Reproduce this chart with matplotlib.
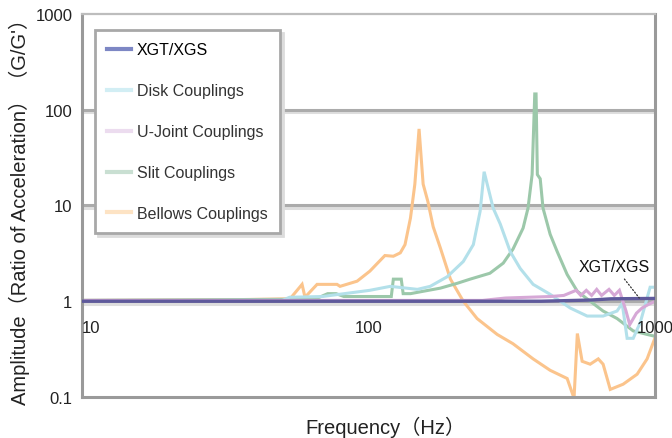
import matplotlib
matplotlib.use("Agg")
import matplotlib.pyplot as plt
import matplotlib.patheffects as pe
from matplotlib.lines import Line2D

plt.rcParams['font.family'] = ['Liberation Sans', 'Noto Sans CJK JP', 'DejaVu Sans']

# --- data (frequency in Hz, amplitude ratio G/G') ---
xgt_f = [10, 400, 600, 700, 1000]
xgt_a = [1.0, 1.0, 1.03, 1.06, 1.07]

disk_f = [10, 50, 53, 69, 101, 119, 148, 164, 188, 214, 232, 245, 253, 272, 288,
          312, 338, 375, 430, 505, 579, 658, 736, 767, 798, 838, 887, 960, 1000]
disk_a = [1.02, 1.02, 1.1, 1.12, 1.3, 1.43, 1.33, 1.43, 1.8, 2.6, 3.9, 8.7, 22.5, 9.4, 6.4,
          3.3, 2.2, 1.5, 1.18, 0.85, 0.70, 0.70, 0.79, 0.95, 0.41, 0.41, 0.6, 1.4, 1.4]

ujoint_f = [10, 250, 300, 430, 480, 530, 550, 575, 600, 625, 650, 690, 720, 750, 790,
            815, 860, 900, 950, 1000]
ujoint_a = [1.02, 1.02, 1.08, 1.12, 1.15, 1.3, 1.15, 1.3, 1.15, 1.33, 1.15, 1.33, 1.15,
            1.3, 0.8, 0.57, 0.75, 0.85, 0.93, 1.0]

slit_f = [10, 65, 72, 77, 82, 120, 122, 130, 132, 140, 155, 178, 204, 226, 265, 295, 319,
          346, 360, 372, 380, 384, 388, 397, 406, 430, 455, 493, 535, 593, 658, 736, 773,
          838, 937, 1000]
slit_a = [1.02, 1.05, 1.2, 1.2, 1.12, 1.12, 1.7, 1.7, 1.2, 1.2, 1.27, 1.37, 1.54, 1.7, 1.96,
          2.5, 3.5, 5.8, 9.4, 21, 146, 146, 21, 19, 9.4, 5, 3.3, 1.9, 1.27, 1.0, 0.79, 0.66,
          0.59, 0.49, 0.45, 0.43]

bellows_f = [10, 35.6, 53.2, 58.6, 60, 66.1, 77.6, 79.5, 91.2, 101, 114, 122, 129, 134, 140,
             145, 150, 155, 161, 168, 178, 193, 214, 239, 281, 319, 375, 430, 493, 521, 535,
             556, 593, 633, 658, 697, 773, 865, 937, 1000]
bellows_a = [1.02, 1.04, 1.06, 1.5, 1.1, 1.5, 1.5, 1.43, 1.62, 2.06, 3.0, 2.95, 3.2, 3.9, 7.4,
             16.7, 63, 16.7, 11, 6, 3.6, 1.7, 1.0, 0.66, 0.45, 0.36, 0.25, 0.19, 0.156, 0.097,
             0.46, 0.236, 0.22, 0.25, 0.22, 0.12, 0.136, 0.173, 0.25, 0.42]

labels = ['XGT/XGS', 'Disk Couplings', 'U-Joint Couplings', 'Slit Couplings', 'Bellows Couplings']
line_colors = ['#5f5a9c', '#b3e0ea', '#d6a8d6', '#9cc8aa', '#fbc48c']
legend_colors = ['#7d87c4', '#d2eef4', '#ecdcef', '#c9dfd2', '#fde3c4']

y_ticks = [0.1, 1, 10, 100, 1000]
y_tick_labels = ['0.1', '1', '10', '100', '1000']
x_ticks = [10, 100, 1000]
x_tick_labels = ['10', '100', '1000']

fig = plt.figure(figsize=(6.72, 4.39), dpi=100)
ax = fig.add_axes([0.122, 0.0934, 0.853, 0.8726])
ax.set_xscale('log')
ax.set_yscale('log')
ax.set_xlim(10, 1000)
ax.set_ylim(0.1, 1000)

# horizontal grid with a soft shadow underneath
shadow = [pe.SimpleLineShadow(offset=(0, -2), shadow_color='#dedede', alpha=1), pe.Normal()]
for v in [1, 10, 100]:
    ax.axhline(v, color='#ababab', lw=2.2, zorder=1, path_effects=shadow)

series = [(bellows_f, bellows_a, 4), (slit_f, slit_a, 3), (disk_f, disk_a, 1),
          (ujoint_f, ujoint_a, 2)]
for f, a, i in series:
    ax.plot(f, a, color=line_colors[i], lw=2.2, zorder=2, solid_joinstyle='miter')
ax.plot(xgt_f, xgt_a, color=line_colors[0], lw=2.4, zorder=3)

for s in ['left', 'bottom', 'right']:
    ax.spines[s].set_color('#9a9a9a')
    ax.spines[s].set_linewidth(2.2)
ax.spines['top'].set_color('#bdbdbd')
ax.spines['top'].set_linewidth(1.6)

ax.set_yticks(y_ticks)
ax.set_yticklabels(y_tick_labels)
ax.minorticks_off()
ax.tick_params(axis='y', length=0, pad=7, labelsize=12, labelcolor='#222')
ax.set_xticks([])

# x tick labels sit just under the amplitude = 1 line
for xv, lab in zip(x_ticks, x_tick_labels):
    ha = 'left' if xv == x_ticks[0] else 'center'
    ax.text(xv, 0.53, lab, ha=ha, va='center', fontsize=12, color='#222')

ax.set_xlabel('Frequency（Hz）', fontsize=14.5, color='#222')
ax.xaxis.set_label_coords(0.53, -0.05)
ax.set_ylabel("Amplitude（Ratio of Acceleration）（G/G'）", fontsize=14.5, color='#222')
ax.yaxis.set_label_coords(-0.09, 0.5)

handles = [Line2D([0], [0], color=c, lw=3) for c in legend_colors]
leg = ax.legend(handles, labels, loc='upper left', bbox_to_anchor=(0.0227, 0.958),
                borderaxespad=0, fontsize=11.5, labelspacing=1.62, handlelength=1.5,
                handletextpad=0.35, borderpad=0.78, fancybox=False, framealpha=1,
                edgecolor='#a8a8a8', shadow={'color': '#dcdcdc', 'alpha': 1})
leg.get_frame().set_linewidth(2)
for k, t in enumerate(leg.get_texts()):
    t.set_color('#000' if k == 0 else '#333')
leg.set_zorder(5)

ax.annotate('XGT/XGS', xy=(880, 1.08), xytext=(722, 2.3), fontsize=11.5, ha='center',
            va='center', color='#111',
            arrowprops=dict(arrowstyle='-', linestyle=':', color='#333', lw=0.9,
                            shrinkA=2, shrinkB=0))

fig.savefig('out.png', dpi=100)
